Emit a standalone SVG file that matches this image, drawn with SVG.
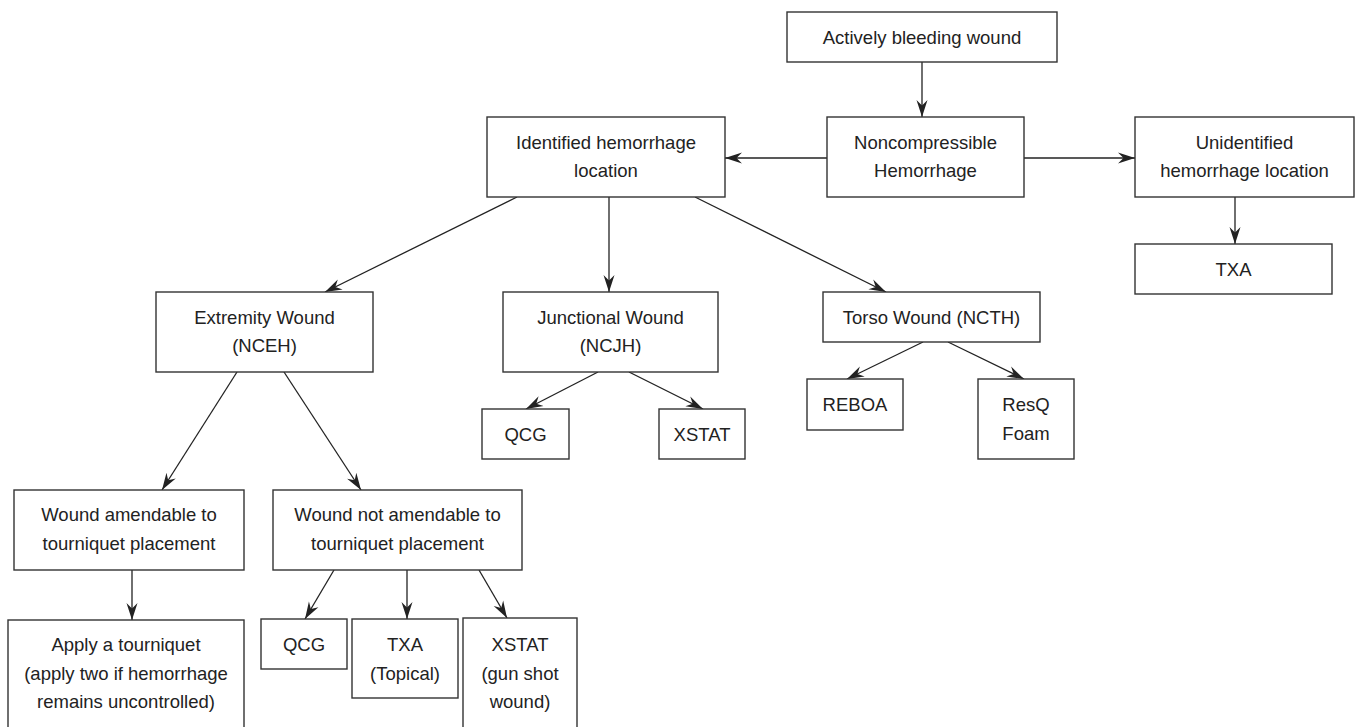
<svg xmlns="http://www.w3.org/2000/svg" width="1355" height="727" viewBox="0 0 1355 727">
<style>
rect{fill:#fff;stroke:#333;stroke-width:1.4}
text{font-family:"Liberation Sans",Arial,Helvetica,sans-serif;font-size:18.5px;fill:#222;text-anchor:middle}
.c line{stroke:#222;stroke-width:1.3;marker-end:url(#ah)}
</style>
<defs>
<marker id="ah" markerUnits="userSpaceOnUse" markerWidth="18" markerHeight="14" viewBox="0 0 18 14" refX="17" refY="7" orient="auto">
<path d="M0,1.5 L17,7 L0,12.5 L5.5,7 z" fill="#222"/>
</marker>
</defs>
<rect x="0" y="0" width="1355" height="727" style="stroke:none"/>
<g class="c" id="connectors">
<line x1="922" y1="62" x2="922" y2="117"/>
<line x1="827" y1="158" x2="725" y2="158"/>
<line x1="1024" y1="158" x2="1135" y2="158"/>
<line x1="1235" y1="197" x2="1235" y2="244"/>
<line x1="517" y1="197" x2="325" y2="292"/>
<line x1="609" y1="197" x2="609" y2="292"/>
<line x1="695" y1="197" x2="886" y2="292"/>
<line x1="598" y1="372" x2="526" y2="409"/>
<line x1="629" y1="372" x2="703" y2="409"/>
<line x1="923" y1="342" x2="847" y2="379"/>
<line x1="948" y1="342" x2="1024" y2="379"/>
<line x1="237" y1="372" x2="162" y2="490"/>
<line x1="284" y1="372" x2="361" y2="490"/>
<line x1="132" y1="570" x2="132" y2="620"/>
<line x1="334" y1="570" x2="305" y2="619"/>
<line x1="407" y1="570" x2="407" y2="619"/>
<line x1="479" y1="570" x2="507" y2="618"/>
</g>
<g id="actively"><rect x="787" y="12" width="270" height="50"/><text x="922" y="44">Actively bleeding wound</text></g>
<g id="noncompressible"><rect x="827" y="117" width="197" height="80"/><text x="925.5" y="149">Noncompressible</text><text x="925.5" y="177">Hemorrhage</text></g>
<g id="identified"><rect x="487" y="117" width="238" height="80"/><text x="606" y="149">Identified hemorrhage</text><text x="606" y="177">location</text></g>
<g id="unidentified"><rect x="1135" y="117" width="219" height="80"/><text x="1244.5" y="149">Unidentified</text><text x="1244.5" y="177">hemorrhage location</text></g>
<g id="txa-top"><rect x="1135" y="244" width="197" height="50"/><text x="1233.5" y="276">TXA</text></g>
<g id="extremity"><rect x="156" y="292" width="217" height="80"/><text x="264.5" y="324">Extremity Wound</text><text x="264.5" y="352">(NCEH)</text></g>
<g id="junctional"><rect x="503" y="292" width="215" height="80"/><text x="610.5" y="324">Junctional Wound</text><text x="610.5" y="352">(NCJH)</text></g>
<g id="torso"><rect x="823" y="292" width="217" height="50"/><text x="931.5" y="324">Torso Wound (NCTH)</text></g>
<g id="qcg-j"><rect x="482" y="409" width="87" height="50"/><text x="525.5" y="441">QCG</text></g>
<g id="xstat-j"><rect x="659" y="409" width="86" height="50"/><text x="702" y="441">XSTAT</text></g>
<g id="reboa"><rect x="807" y="379" width="96" height="51"/><text x="855" y="411">REBOA</text></g>
<g id="resq"><rect x="978" y="379" width="96" height="80"/><text x="1026" y="411">ResQ</text><text x="1026" y="440">Foam</text></g>
<g id="amendable"><rect x="14" y="490" width="230" height="80"/><text x="129" y="521">Wound amendable to</text><text x="129" y="550">tourniquet placement</text></g>
<g id="not-amendable"><rect x="273" y="490" width="249" height="80"/><text x="397.5" y="521">Wound not amendable to</text><text x="397.5" y="550">tourniquet placement</text></g>
<g id="apply"><rect x="8" y="620" width="236" height="112"/><text x="126" y="651">Apply a tourniquet</text><text x="126" y="680">(apply two if hemorrhage</text><text x="126" y="708">remains uncontrolled)</text></g>
<g id="qcg-e"><rect x="261" y="619" width="86" height="50"/><text x="304" y="651">QCG</text></g>
<g id="txa-e"><rect x="352" y="619" width="106" height="79"/><text x="405" y="651">TXA</text><text x="405" y="680">(Topical)</text></g>
<g id="xstat-e"><rect x="463" y="618" width="114" height="114"/><text x="520" y="651">XSTAT</text><text x="520" y="680">(gun shot</text><text x="520" y="708">wound)</text></g>
</svg>
